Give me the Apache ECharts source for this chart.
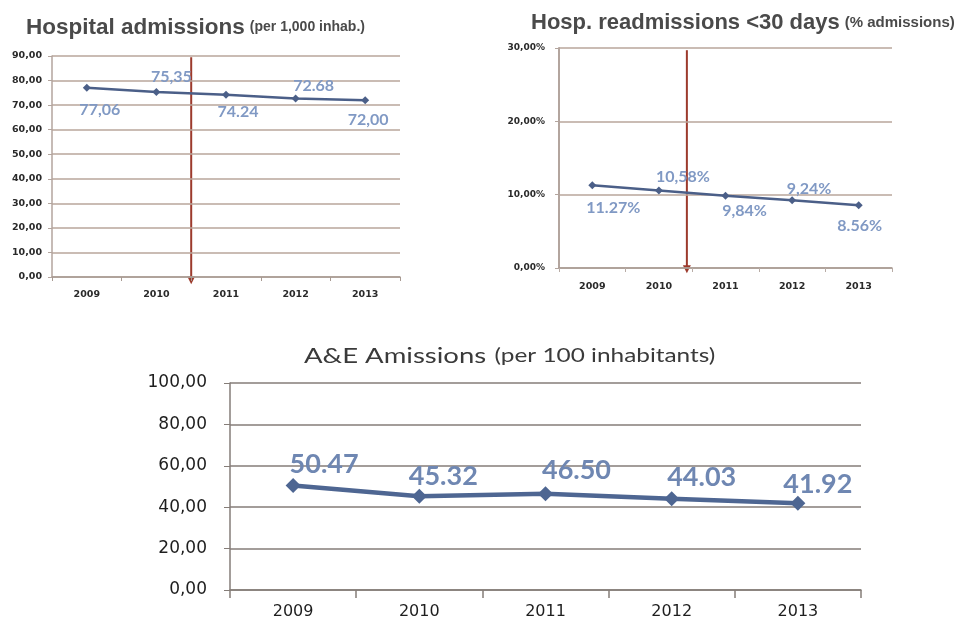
<!DOCTYPE html>
<html>
<head>
<meta charset="utf-8">
<script src="https://cdn.jsdelivr.net/npm/echarts@6/dist/echarts.min.js"></script>
<style>
  html, body { margin: 0; padding: 0; background: #ffffff; }
  #chart { width: 960px; height: 630px; }
</style>
</head>
<body>
<div id="chart"></div>
<script>
// Years shared by all three panels
const years = ['2009', '2010', '2011', '2012', '2013'];

// Hospital admissions per 1,000 inhabitants
const admissions = [77.06, 75.35, 74.24, 72.68, 72.00];
const admissionsDecimalMark = [',', ',', '.', '.', ','];

// Readmissions within 30 days, % of admissions
const readmissions = [11.27, 10.58, 9.84, 9.24, 8.56];
const readmissionsDecimalMark = ['.', ',', ',', ',', '.'];

// A&E admissions per 100 inhabitants
const aeAdmissions = [50.47, 45.32, 46.50, 44.03, 41.92];

// Axis tick label lists
const admissionsTicks = ['0,00', '10,00', '20,00', '30,00', '40,00', '50,00', '60,00', '70,00', '80,00', '90,00'];
const readmissionsTicks = ['0,00%', '10,00%', '20,00%', '30,00%'];
const aeTicks = ['0,00', '20,00', '40,00', '60,00', '80,00', '100,00'];

// Label placement around each point (centre offset in px)
const admissionsLabelOffset = [[13, 22], [15, -15], [12, 17], [18, -13], [3, 20]];
const readmissionsLabelOffset = [[21, 22], [24, -14], [19, 15], [17, -11], [1, 21]];
const aeLabelOffset = [[31, -21], [24, -20], [31, -23], [30, -22], [20, -19]];

const lineColor = '#4b5f88';
const arrowColor = '#9c3a2c';

function fmt(v, mark) {
  return v.toFixed(2).replace('.', mark);
}

function pointSeries(values, gridIdx, offsets, labelText, labelStyle, lineW, symSize, color) {
  return {
    type: 'line',
    xAxisIndex: gridIdx,
    yAxisIndex: gridIdx,
    symbol: 'diamond',
    symbolSize: symSize,
    showSymbol: true,
    animation: false,
    lineStyle: { color: color, width: lineW },
    itemStyle: { color: color },
    data: values.map((v, i) => ({
      value: v,
      label: {
        show: true,
        position: 'inside',
        offset: offsets[i],
        formatter: labelText(v, i),
        ...labelStyle
      }
    }))
  };
}

const chart = echarts.init(document.getElementById('chart'), null, { renderer: 'canvas' });

const option = {
  backgroundColor: '#ffffff',
  animation: false,
  title: [
    {
      left: 21, top: 11,
      text: '{a|Hospital admissions} {b|(per 1,000 inhab.)}',
      textStyle: {
        rich: {
          a: { fontFamily: 'Liberation Sans', fontWeight: 'bold', fontSize: 22.5, color: '#4a4a4a' },
          b: { fontFamily: 'Liberation Sans', fontWeight: 'bold', fontSize: 14, color: '#4a4a4a' }
        }
      }
    },
    {
      left: 526, top: 7,
      text: '{a|Hosp. readmissions <30 days} {b|(% admissions)}',
      textStyle: {
        rich: {
          a: { fontFamily: 'Liberation Sans', fontWeight: 'bold', fontSize: 22, color: '#4a4a4a' },
          b: { fontFamily: 'Liberation Sans', fontWeight: 'bold', fontSize: 15, color: '#4a4a4a' }
        }
      }
    }
  ],
  graphic: [
    {
      type: 'text',
      x: 304, y: 356,
      scaleX: 1.25,
      silent: true,
      style: {
        text: '{a|A&E Amissions}  {b|(per 100 inhabitants)}',
        verticalAlign: 'middle',
        rich: {
          a: { fontFamily: 'Lato', fontWeight: 'normal', fontSize: 22, fill: '#3a3a3a' },
          b: { fontFamily: 'Lato', fontWeight: 'normal', fontSize: 19.5, fill: '#3a3a3a' }
        }
      }
    }
  ],
  grid: [
    { left: 52, top: 56, width: 348, height: 221 },
    { left: 559, top: 48, width: 333, height: 220 },
    { left: 230, top: 383, width: 631, height: 207 }
  ],
  xAxis: [
    {
      type: 'category', gridIndex: 0, data: years, boundaryGap: true,
      axisLine: { lineStyle: { color: '#a89a92', width: 1.5 } },
      axisTick: { show: true, length: 4, lineStyle: { color: '#a89a92' } },
      axisLabel: { margin: 13, fontFamily: 'DejaVu Sans', fontWeight: 'bold', fontSize: 9.5, color: '#2a2a2a' }
    },
    {
      type: 'category', gridIndex: 1, data: years, boundaryGap: true,
      axisLine: { lineStyle: { color: '#a89a92', width: 1.5 } },
      axisTick: { show: true, length: 4, lineStyle: { color: '#b8aca6' } },
      axisLabel: { margin: 14, fontFamily: 'DejaVu Sans', fontWeight: 'bold', fontSize: 9.5, color: '#2a2a2a' }
    },
    {
      type: 'category', gridIndex: 2, data: years, boundaryGap: true,
      axisLine: { lineStyle: { color: '#857d78', width: 1.5 } },
      axisTick: { show: true, length: 8, lineStyle: { color: '#857d78', width: 1.5 } },
      axisLabel: { margin: 14, fontFamily: 'DejaVu Sans', fontSize: 16, color: '#1e1e1e' }
    }
  ],
  yAxis: [
    {
      type: 'value', gridIndex: 0, min: 0, max: 90, interval: 10,
      axisLine: { show: true, lineStyle: { color: '#b3a59e', width: 1.5 } },
      axisTick: { show: true, length: 4, lineStyle: { color: '#b3a59e' } },
      splitLine: { lineStyle: { color: '#b9a69b', width: 1.5 } },
      axisLabel: {
        margin: 10, fontFamily: 'DejaVu Sans', fontWeight: 'bold', fontSize: 9.5, color: '#2a2a2a',
        formatter: v => admissionsTicks[Math.round(v / 10)]
      }
    },
    {
      type: 'value', gridIndex: 1, min: 0, max: 30, interval: 10,
      axisLine: { show: true, lineStyle: { color: '#b3a59e', width: 2 } },
      axisTick: { show: true, length: 4, lineStyle: { color: '#b3a59e' } },
      splitLine: { lineStyle: { color: '#b9a69b', width: 1.5 } },
      axisLabel: {
        margin: 14, fontFamily: 'DejaVu Sans', fontWeight: 'bold', fontSize: 9, color: '#2a2a2a',
        formatter: v => readmissionsTicks[Math.round(v / 10)]
      }
    },
    {
      type: 'value', gridIndex: 2, min: 0, max: 100, interval: 20,
      axisLine: { show: true, lineStyle: { color: '#857d78', width: 1.5 } },
      axisTick: { show: true, length: 6, lineStyle: { color: '#857d78' } },
      splitLine: { lineStyle: { color: '#857d78', width: 1.5 } },
      axisLabel: {
        margin: 23, fontFamily: 'DejaVu Sans', fontSize: 17, color: '#1e1e1e',
        formatter: v => aeTicks[Math.round(v / 20)]
      }
    }
  ],
  series: [
    pointSeries(admissions, 0, admissionsLabelOffset,
      (v, i) => fmt(v, admissionsDecimalMark[i]),
      { fontFamily: 'Lato', fontWeight: 'bold', fontSize: 16, color: '#8099c4' },
      2.5, 8, lineColor),
    pointSeries(readmissions, 1, readmissionsLabelOffset,
      (v, i) => fmt(v, readmissionsDecimalMark[i]) + '%',
      { fontFamily: 'Lato', fontWeight: 'bold', fontSize: 16, color: '#8099c4' },
      2.5, 8, lineColor),
    pointSeries(aeAdmissions, 2, aeLabelOffset,
      (v) => v.toFixed(2),
      { fontFamily: 'Lato', fontWeight: 'bold', fontSize: 27, color: '#6f87b2' },
      4.5, 15, '#4e6692')
  ]
};

chart.setOption(option);

// Vertical marker arrow between two years, drawn in data space of a grid
function markerArrow(gridIdx, fromIdx, frac, topVal, tipVal) {
  const a = chart.convertToPixel({ xAxisIndex: gridIdx }, years[fromIdx]);
  const b = chart.convertToPixel({ xAxisIndex: gridIdx }, years[fromIdx + 1]);
  const x = a + (b - a) * frac;
  const yTop = chart.convertToPixel({ yAxisIndex: gridIdx }, topVal);
  const yTip = chart.convertToPixel({ yAxisIndex: gridIdx }, tipVal);
  return {
    type: 'group',
    silent: true,
    z: 10,
    children: [
      { type: 'line', shape: { x1: x, y1: yTop, x2: x, y2: yTip - 6 },
        style: { stroke: arrowColor, lineWidth: 2 } },
      { type: 'polygon', shape: { points: [[x - 4, yTip - 8], [x + 4, yTip - 8], [x, yTip]] },
        style: { fill: arrowColor } }
    ]
  };
}

chart.setOption({
  graphic: [
    option.graphic[0],
    markerArrow(0, 1, 0.5, 89.5, -3),
    markerArrow(1, 1, 0.42, 29.7, -0.7)
  ]
});
</script>
</body>
</html>
